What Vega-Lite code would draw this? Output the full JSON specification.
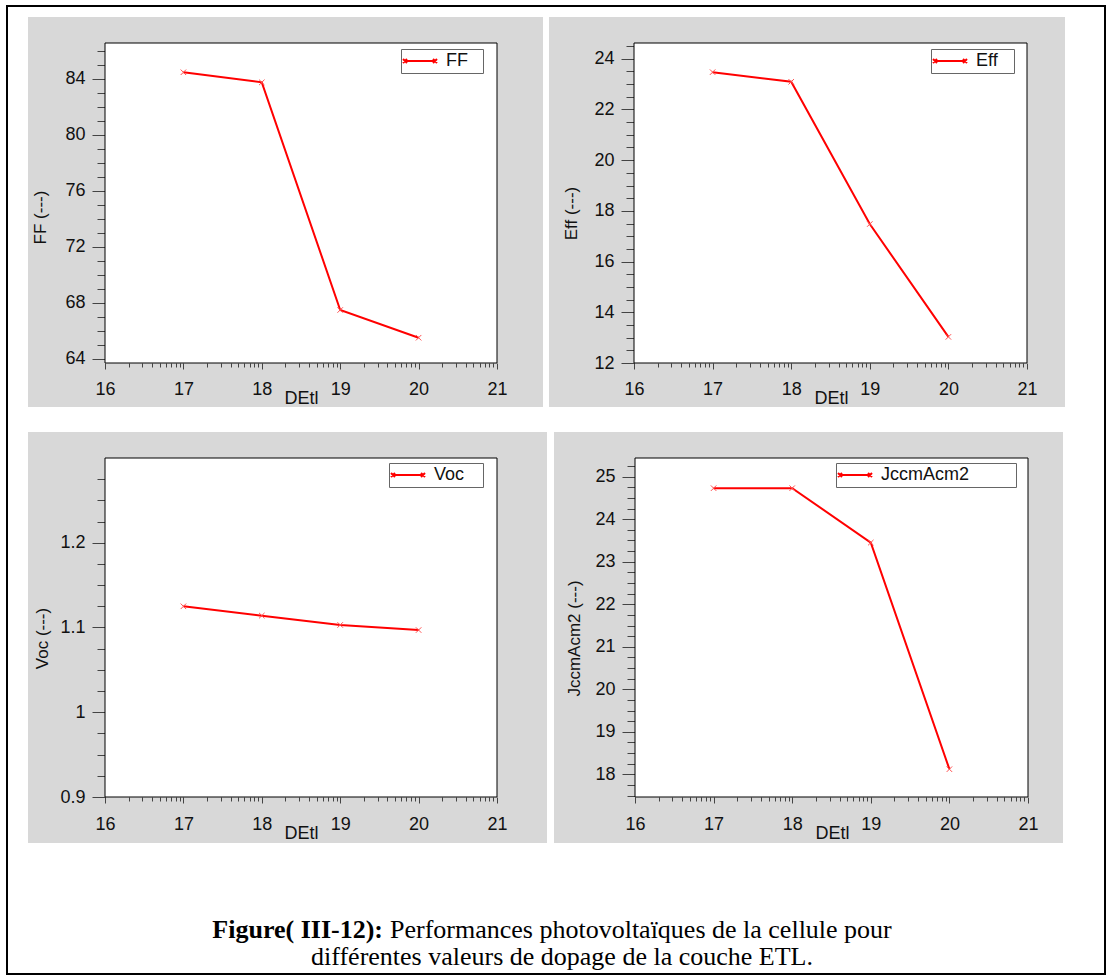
{
  "$schema": "https://vega.github.io/schema/vega-lite/v6.json",
  "background": "white",
  "padding": {"left": 6, "top": 5, "right": 0, "bottom": 0},
  "config": {
    "view": {"stroke": null},
    "axis": {
      "labelFont": "Liberation Sans", "labelFontSize": 18, "labelColor": "#111",
      "titleFont": "Liberation Sans", "titleFontWeight": "normal", "titleColor": "#111",
      "tickColor": "#444", "tickWidth": 1, "domain": false, "grid": false,
      "labelFlush": false, "labelOverlap": false, "labelBound": false
    },
    "legend": {
      "labelFont": "Liberation Sans", "labelFontSize": 18, "labelColor": "#111",
      "padding": 3, "strokeColor": "#666", "fillColor": "white",
      "symbolSize": 256, "symbolStrokeWidth": 2, "symbolFillColor": "transparent",
      "symbolType": "M-1,0H2.75M-1.25,-0.25L-0.75,0.25M-1.25,0.25L-0.75,-0.25M2.5,-0.25L3,0.25M2.5,0.25L3,-0.25",
      "labelOffset": 24,
      "titleOrient": "right", "titleOpacity": 0, "titleFontSize": 6
    }
  },
  "resolve": {"scale": {"color": "independent"}, "legend": {"color": "independent"}},
  "spacing": 0,
  "vconcat": [
    {"width": 1100, "height": 2, "data": {"values": [{}]}, "mark": {"type": "rect", "color": "#000"}, "encoding": {}, "view": {"fill": "#000", "stroke": null}},
    {
      "spacing": 1096,
      "hconcat": [
        {"width": 2, "height": 10, "data": {"values": [{}]}, "mark": {"type": "rect", "color": "#000"}, "encoding": {}, "view": {"fill": "#000", "stroke": null}},
        {"width": 2, "height": 10, "data": {"values": [{}]}, "mark": {"type": "rect", "color": "#000"}, "encoding": {}, "view": {"fill": "#000", "stroke": null}}
      ]
    },
    {
      "spacing": 20,
      "resolve": {"scale": {"color": "independent"}, "legend": {"color": "independent"}},
      "hconcat": [
        {"width": 2, "height": 390, "data": {"values": [{}]}, "mark": {"type": "rect", "color": "#000"}, "encoding": {}, "view": {"fill": "#000", "stroke": null}},
        {
          "spacing": 6,
          "resolve": {"scale": {"color": "independent"}, "legend": {"color": "independent"}},
          "hconcat": [
            {
              "width": 515, "height": 390,
              "view": {"fill": "#d8d8d8", "stroke": null},
              "resolve": {"axis": {"x": "independent", "y": "independent"}},
              "layer": [
                {
                  "data": {"values": [{}]},
                  "mark": {"type": "rect", "fill": "white", "stroke": "#000", "strokeWidth": 1},
                  "encoding": {
                    "x": {"datum": 16, "type": "quantitative",
                      "scale": {"domain": [16, 21], "range": [77, 469], "nice": false, "zero": false},
                      "axis": {"orient": "bottom", "offset": -44, "values": [16, 17, 18, 19, 20, 21], "format": "d",
                        "tickSize": 6, "labelPadding": 11, "title": "DEtl", "titleFontSize": 18,
                        "titleX": 273, "titleY": 40, "titleAlign": "center", "titleBaseline": "alphabetic"}},
                    "x2": {"datum": 21},
                    "y": {"datum": 63.714, "type": "quantitative",
                      "scale": {"domain": [63.714, 86.571], "range": [346, 26], "nice": false, "zero": false},
                      "axis": {"orient": "left", "offset": -77, "values": [64, 68, 72, 76, 80, 84], "format": "~g",
                        "tickSize": 13, "labelPadding": 7, "title": "FF (---)", "titleFontSize": 17,
                        "titleAngle": -90, "titleX": -65, "titleY": 200, "titleAlign": "center", "titleBaseline": "middle"}},
                    "y2": {"datum": 86.571}
                  }
                },
                {
                  "data": {"values": [{"DEtl": 17, "FF": 84.48}, {"DEtl": 18, "FF": 83.76}, {"DEtl": 19, "FF": 67.5}, {"DEtl": 20, "FF": 65.52}]},
                  "mark": {"type": "line", "strokeWidth": 2},
                  "encoding": {
                    "x": {"field": "DEtl", "type": "quantitative",
                      "axis": {"orient": "bottom", "offset": -44, "labels": false, "title": null, "tickSize": 4,
                        "values": [16.301, 16.477, 16.602, 16.699, 16.778, 16.845, 16.903, 16.954, 17.301, 17.477, 17.602, 17.699, 17.778, 17.845, 17.903, 17.954, 18.301, 18.477, 18.602, 18.699, 18.778, 18.845, 18.903, 18.954, 19.301, 19.477, 19.602, 19.699, 19.778, 19.845, 19.903, 19.954, 20.301, 20.477, 20.602, 20.699, 20.778, 20.845, 20.903, 20.954]}},
                    "y": {"field": "FF", "type": "quantitative",
                      "axis": {"orient": "left", "offset": -77, "labels": false, "title": null, "tickSize": 8,
                        "values": [64, 65, 66, 67, 68, 69, 70, 71, 72, 73, 74, 75, 76, 77, 78, 79, 80, 81, 82, 83, 84, 85, 86]}},
                    "color": {"datum": "FF", "type": "nominal", "scale": {"range": ["#ff0000"]},
                      "legend": {"orient": "none", "legendX": 373, "legendY": 32, "title": "x", "titlePadding": 8}}
                  }
                },
                {
                  "data": {"values": [{"DEtl": 17, "FF": 84.48}, {"DEtl": 18, "FF": 83.76}, {"DEtl": 19, "FF": 67.5}, {"DEtl": 20, "FF": 65.52}]},
                  "mark": {"type": "point", "shape": "M-1,-1L1,1M-1,1L1,-1", "filled": false, "size": 30, "color": "#ff5050", "strokeWidth": 1, "opacity": 1},
                  "encoding": {
                    "x": {"field": "DEtl", "type": "quantitative", "axis": null},
                    "y": {"field": "FF", "type": "quantitative", "axis": null}
                  }
                }
              ]
            },
            {
              "width": 516, "height": 390,
              "view": {"fill": "#d8d8d8", "stroke": null},
              "resolve": {"axis": {"x": "independent", "y": "independent"}},
              "layer": [
                {
                  "data": {"values": [{}]},
                  "mark": {"type": "rect", "fill": "white", "stroke": "#000", "strokeWidth": 1},
                  "encoding": {
                    "x": {"datum": 16, "type": "quantitative",
                      "scale": {"domain": [16, 21], "range": [85, 478], "nice": false, "zero": false},
                      "axis": {"orient": "bottom", "offset": -44, "values": [16, 17, 18, 19, 20, 21], "format": "d",
                        "tickSize": 6, "labelPadding": 11, "title": "DEtl", "titleFontSize": 18,
                        "titleX": 282, "titleY": 40, "titleAlign": "center", "titleBaseline": "alphabetic"}},
                    "x2": {"datum": 21},
                    "y": {"datum": 12, "type": "quantitative",
                      "scale": {"domain": [12, 24.62], "range": [346, 26], "nice": false, "zero": false},
                      "axis": {"orient": "left", "offset": -85, "values": [12, 14, 16, 18, 20, 22, 24], "format": "~g",
                        "tickSize": 13, "labelPadding": 7, "title": "Eff (---)", "titleFontSize": 17,
                        "titleAngle": -90, "titleX": -63, "titleY": 196, "titleAlign": "center", "titleBaseline": "middle"}},
                    "y2": {"datum": 24.62}
                  }
                },
                {
                  "data": {"values": [{"DEtl": 17, "Eff": 23.47}, {"DEtl": 18, "Eff": 23.09}, {"DEtl": 19, "Eff": 17.48}, {"DEtl": 20, "Eff": 13.03}]},
                  "mark": {"type": "line", "strokeWidth": 2},
                  "encoding": {
                    "x": {"field": "DEtl", "type": "quantitative",
                      "axis": {"orient": "bottom", "offset": -44, "labels": false, "title": null, "tickSize": 4,
                        "values": [16.301, 16.477, 16.602, 16.699, 16.778, 16.845, 16.903, 16.954, 17.301, 17.477, 17.602, 17.699, 17.778, 17.845, 17.903, 17.954, 18.301, 18.477, 18.602, 18.699, 18.778, 18.845, 18.903, 18.954, 19.301, 19.477, 19.602, 19.699, 19.778, 19.845, 19.903, 19.954, 20.301, 20.477, 20.602, 20.699, 20.778, 20.845, 20.903, 20.954]}},
                    "y": {"field": "Eff", "type": "quantitative",
                      "axis": {"orient": "left", "offset": -85, "labels": false, "title": null, "tickSize": 8,
                        "values": [12, 12.5, 13, 13.5, 14, 14.5, 15, 15.5, 16, 16.5, 17, 17.5, 18, 18.5, 19, 19.5, 20, 20.5, 21, 21.5, 22, 22.5, 23, 23.5, 24, 24.5]}},
                    "color": {"datum": "Eff", "type": "nominal", "scale": {"range": ["#ff0000"]},
                      "legend": {"orient": "none", "legendX": 382, "legendY": 32, "title": "x", "titlePadding": 9}}
                  }
                },
                {
                  "data": {"values": [{"DEtl": 17, "Eff": 23.47}, {"DEtl": 18, "Eff": 23.09}, {"DEtl": 19, "Eff": 17.48}, {"DEtl": 20, "Eff": 13.03}]},
                  "mark": {"type": "point", "shape": "M-1,-1L1,1M-1,1L1,-1", "filled": false, "size": 30, "color": "#ff5050", "strokeWidth": 1, "opacity": 1},
                  "encoding": {
                    "x": {"field": "DEtl", "type": "quantitative", "axis": null},
                    "y": {"field": "Eff", "type": "quantitative", "axis": null}
                  }
                }
              ]
            },
            {"width": 13, "height": 390, "data": {"values": [{}]}, "mark": {"type": "rect", "color": "#fff", "opacity": 0}, "encoding": {}}
          ]
        },
        {"width": 2, "height": 390, "data": {"values": [{}]}, "mark": {"type": "rect", "color": "#000"}, "encoding": {}, "view": {"fill": "#000", "stroke": null}}
      ]
    },
    {
      "spacing": 1096,
      "hconcat": [
        {"width": 2, "height": 25, "data": {"values": [{}]}, "mark": {"type": "rect", "color": "#000"}, "encoding": {}, "view": {"fill": "#000", "stroke": null}},
        {"width": 2, "height": 25, "data": {"values": [{}]}, "mark": {"type": "rect", "color": "#000"}, "encoding": {}, "view": {"fill": "#000", "stroke": null}}
      ]
    },
    {
      "spacing": 20,
      "resolve": {"scale": {"color": "independent"}, "legend": {"color": "independent"}},
      "hconcat": [
        {"width": 2, "height": 411, "data": {"values": [{}]}, "mark": {"type": "rect", "color": "#000"}, "encoding": {}, "view": {"fill": "#000", "stroke": null}},
        {
          "spacing": 7,
          "resolve": {"scale": {"color": "independent"}, "legend": {"color": "independent"}},
          "hconcat": [
            {
              "width": 519, "height": 411,
              "view": {"fill": "#d8d8d8", "stroke": null},
              "resolve": {"axis": {"x": "independent", "y": "independent"}},
              "layer": [
                {
                  "data": {"values": [{}]},
                  "mark": {"type": "rect", "fill": "white", "stroke": "#000", "strokeWidth": 1},
                  "encoding": {
                    "x": {"datum": 16, "type": "quantitative",
                      "scale": {"domain": [16, 21], "range": [77, 469], "nice": false, "zero": false},
                      "axis": {"orient": "bottom", "offset": -46, "values": [16, 17, 18, 19, 20, 21], "format": "d",
                        "tickSize": 6, "labelPadding": 12, "title": "DEtl", "titleFontSize": 18,
                        "titleX": 273, "titleY": 41, "titleAlign": "center", "titleBaseline": "alphabetic"}},
                    "x2": {"datum": 21},
                    "y": {"datum": 0.9, "type": "quantitative",
                      "scale": {"domain": [0.9, 1.3], "range": [365, 26], "nice": false, "zero": false},
                      "axis": {"orient": "left", "offset": -77, "values": [0.9, 1, 1.1, 1.2], "format": "~g",
                        "tickSize": 13, "labelPadding": 7, "title": "Voc (---)", "titleFontSize": 17,
                        "titleAngle": -90, "titleX": -63, "titleY": 206, "titleAlign": "center", "titleBaseline": "middle"}},
                    "y2": {"datum": 1.3}
                  }
                },
                {
                  "data": {"values": [{"DEtl": 17, "Voc": 1.125}, {"DEtl": 18, "Voc": 1.114}, {"DEtl": 19, "Voc": 1.103}, {"DEtl": 20, "Voc": 1.097}]},
                  "mark": {"type": "line", "strokeWidth": 2},
                  "encoding": {
                    "x": {"field": "DEtl", "type": "quantitative",
                      "axis": {"orient": "bottom", "offset": -46, "labels": false, "title": null, "tickSize": 4,
                        "values": [16.301, 16.477, 16.602, 16.699, 16.778, 16.845, 16.903, 16.954, 17.301, 17.477, 17.602, 17.699, 17.778, 17.845, 17.903, 17.954, 18.301, 18.477, 18.602, 18.699, 18.778, 18.845, 18.903, 18.954, 19.301, 19.477, 19.602, 19.699, 19.778, 19.845, 19.903, 19.954, 20.301, 20.477, 20.602, 20.699, 20.778, 20.845, 20.903, 20.954]}},
                    "y": {"field": "Voc", "type": "quantitative",
                      "axis": {"orient": "left", "offset": -77, "labels": false, "title": null, "tickSize": 8,
                        "values": [0.9, 0.925, 0.95, 0.975, 1, 1.025, 1.05, 1.075, 1.1, 1.125, 1.15, 1.175, 1.2, 1.225, 1.25, 1.275]}},
                    "color": {"datum": "Voc", "type": "nominal", "scale": {"range": ["#ff0000"]},
                      "legend": {"orient": "none", "legendX": 361, "legendY": 31, "title": "x", "titlePadding": 12}}
                  }
                },
                {
                  "data": {"values": [{"DEtl": 17, "Voc": 1.125}, {"DEtl": 18, "Voc": 1.114}, {"DEtl": 19, "Voc": 1.103}, {"DEtl": 20, "Voc": 1.097}]},
                  "mark": {"type": "point", "shape": "M-1,-1L1,1M-1,1L1,-1", "filled": false, "size": 30, "color": "#ff5050", "strokeWidth": 1, "opacity": 1},
                  "encoding": {
                    "x": {"field": "DEtl", "type": "quantitative", "axis": null},
                    "y": {"field": "Voc", "type": "quantitative", "axis": null}
                  }
                }
              ]
            },
            {
              "width": 509, "height": 411,
              "view": {"fill": "#d8d8d8", "stroke": null},
              "resolve": {"axis": {"x": "independent", "y": "independent"}},
              "layer": [
                {
                  "data": {"values": [{}]},
                  "mark": {"type": "rect", "fill": "white", "stroke": "#000", "strokeWidth": 1},
                  "encoding": {
                    "x": {"datum": 16, "type": "quantitative",
                      "scale": {"domain": [16, 21], "range": [81, 474], "nice": false, "zero": false},
                      "axis": {"orient": "bottom", "offset": -46, "values": [16, 17, 18, 19, 20, 21], "format": "d",
                        "tickSize": 6, "labelPadding": 12, "title": "DEtl", "titleFontSize": 18,
                        "titleX": 278, "titleY": 41, "titleAlign": "center", "titleBaseline": "alphabetic"}},
                    "x2": {"datum": 21},
                    "y": {"datum": 17.466, "type": "quantitative",
                      "scale": {"domain": [17.466, 25.44], "range": [365, 26], "nice": false, "zero": false},
                      "axis": {"orient": "left", "offset": -81, "values": [18, 19, 20, 21, 22, 23, 24, 25], "format": "~g",
                        "tickSize": 13, "labelPadding": 7, "title": "JccmAcm2 (---)", "titleFontSize": 17,
                        "titleAngle": -90, "titleX": -61, "titleY": 206, "titleAlign": "center", "titleBaseline": "middle"}},
                    "y2": {"datum": 25.44}
                  }
                },
                {
                  "data": {"values": [{"DEtl": 17, "JccmAcm2": 24.73}, {"DEtl": 18, "JccmAcm2": 24.73}, {"DEtl": 19, "JccmAcm2": 23.45}, {"DEtl": 20, "JccmAcm2": 18.12}]},
                  "mark": {"type": "line", "strokeWidth": 2},
                  "encoding": {
                    "x": {"field": "DEtl", "type": "quantitative",
                      "axis": {"orient": "bottom", "offset": -46, "labels": false, "title": null, "tickSize": 4,
                        "values": [16.301, 16.477, 16.602, 16.699, 16.778, 16.845, 16.903, 16.954, 17.301, 17.477, 17.602, 17.699, 17.778, 17.845, 17.903, 17.954, 18.301, 18.477, 18.602, 18.699, 18.778, 18.845, 18.903, 18.954, 19.301, 19.477, 19.602, 19.699, 19.778, 19.845, 19.903, 19.954, 20.301, 20.477, 20.602, 20.699, 20.778, 20.845, 20.903, 20.954]}},
                    "y": {"field": "JccmAcm2", "type": "quantitative",
                      "axis": {"orient": "left", "offset": -81, "labels": false, "title": null, "tickSize": 8,
                        "values": [17.5, 17.75, 18, 18.25, 18.5, 18.75, 19, 19.25, 19.5, 19.75, 20, 20.25, 20.5, 20.75, 21, 21.25, 21.5, 21.75, 22, 22.25, 22.5, 22.75, 23, 23.25, 23.5, 23.75, 24, 24.25, 24.5, 24.75, 25, 25.25]}},
                    "color": {"datum": "JccmAcm2", "type": "nominal", "scale": {"range": ["#ff0000"]},
                      "legend": {"orient": "none", "legendX": 282, "legendY": 31, "title": "x", "titlePadding": 40}}
                  }
                },
                {
                  "data": {"values": [{"DEtl": 17, "JccmAcm2": 24.73}, {"DEtl": 18, "JccmAcm2": 24.73}, {"DEtl": 19, "JccmAcm2": 23.45}, {"DEtl": 20, "JccmAcm2": 18.12}]},
                  "mark": {"type": "point", "shape": "M-1,-1L1,1M-1,1L1,-1", "filled": false, "size": 30, "color": "#ff5050", "strokeWidth": 1, "opacity": 1},
                  "encoding": {
                    "x": {"field": "DEtl", "type": "quantitative", "axis": null},
                    "y": {"field": "JccmAcm2", "type": "quantitative", "axis": null}
                  }
                }
              ]
            },
            {"width": 14, "height": 411, "data": {"values": [{}]}, "mark": {"type": "rect", "color": "#fff", "opacity": 0}, "encoding": {}}
          ]
        },
        {"width": 2, "height": 411, "data": {"values": [{}]}, "mark": {"type": "rect", "color": "#000"}, "encoding": {}, "view": {"fill": "#000", "stroke": null}}
      ]
    },
    {
      "spacing": 20,
      "hconcat": [
        {"width": 2, "height": 130, "data": {"values": [{}]}, "mark": {"type": "rect", "color": "#000"}, "encoding": {}, "view": {"fill": "#000", "stroke": null}},
        {
          "width": 1056, "height": 130,
          "view": {"fill": null, "stroke": null},
          "layer": [
            {
              "data": {"values": [{"caption": "Figure( III-12):"}]},
              "mark": {"type": "text", "font": "Liberation Serif", "fontSize": 26, "fontWeight": "bold", "align": "right", "baseline": "alphabetic", "color": "#000"},
              "encoding": {"text": {"field": "caption"}, "x": {"value": 355}, "y": {"value": 95}}
            },
            {
              "data": {"values": [{"caption": "Performances photovoltaïques de la cellule pour"}]},
              "mark": {"type": "text", "font": "Liberation Serif", "fontSize": 26, "align": "left", "baseline": "alphabetic", "color": "#000"},
              "encoding": {"text": {"field": "caption"}, "x": {"value": 362}, "y": {"value": 95}}
            },
            {
              "data": {"values": [{"caption": "différentes valeurs de dopage de la couche ETL."}]},
              "mark": {"type": "text", "font": "Liberation Serif", "fontSize": 26, "align": "center", "baseline": "alphabetic", "color": "#000"},
              "encoding": {"text": {"field": "caption"}, "x": {"value": 534}, "y": {"value": 122}}
            }
          ]
        },
        {"width": 2, "height": 130, "data": {"values": [{}]}, "mark": {"type": "rect", "color": "#000"}, "encoding": {}, "view": {"fill": "#000", "stroke": null}}
      ]
    },
    {"width": 1100, "height": 2, "data": {"values": [{}]}, "mark": {"type": "rect", "color": "#000"}, "encoding": {}, "view": {"fill": "#000", "stroke": null}}
  ]
}
